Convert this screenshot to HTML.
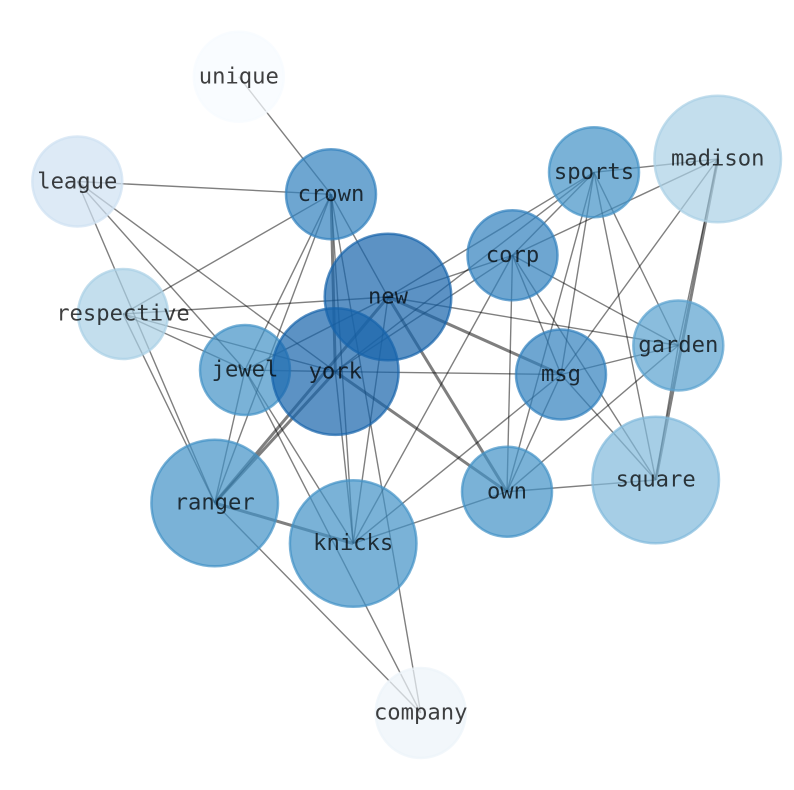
<!DOCTYPE html>
<html>
<head>
<meta charset="utf-8">
<style>
html,body{margin:0;padding:0;background:#fff}
svg{display:block}
text{font-family:"DejaVu Sans Mono","Liberation Mono",monospace;font-size:22.2px;text-anchor:middle;fill:#000;fill-opacity:.75}
circle{stroke-width:2.5}
line{stroke:#000;stroke-opacity:.5;stroke-width:1.4}
line.t{stroke-width:3}
</style>
</head>
<body>
<svg width="794" height="790" viewBox="0 0 794 790" xmlns="http://www.w3.org/2000/svg">
<rect width="794" height="790" fill="#fff"/>
<g>
<line x1="238.8" y1="76.7" x2="331" y2="194.3"/>
<line x1="77.3" y1="181.5" x2="331" y2="194.3"/>
<line x1="77.3" y1="181.5" x2="335.3" y2="371.6"/>
<line x1="77.3" y1="181.5" x2="245" y2="370"/>
<line x1="77.3" y1="181.5" x2="214.7" y2="503"/>
<line x1="123" y1="314" x2="331" y2="194.3"/>
<line x1="123" y1="314" x2="388" y2="297"/>
<line x1="123" y1="314" x2="245" y2="370"/>
<line x1="123" y1="314" x2="335.3" y2="371.6"/>
<line x1="123" y1="314" x2="214.7" y2="503"/>
<line x1="331" y1="194.3" x2="245" y2="370"/>
<line x1="331" y1="194.3" x2="214.7" y2="503"/>
<line class="t" x1="331" y1="194.3" x2="335.3" y2="371.6"/>
<line x1="331" y1="194.3" x2="353.2" y2="543.5"/>
<line x1="331" y1="194.3" x2="420.7" y2="713"/>
<line x1="331" y1="194.3" x2="388" y2="297"/>
<line x1="245" y1="370" x2="388" y2="297"/>
<line x1="245" y1="370" x2="335.3" y2="371.6"/>
<line x1="245" y1="370" x2="214.7" y2="503"/>
<line x1="245" y1="370" x2="353.2" y2="543.5"/>
<line x1="245" y1="370" x2="420.7" y2="713"/>
<line class="t" x1="214.7" y1="503" x2="388" y2="297"/>
<line class="t" x1="214.7" y1="503" x2="335.3" y2="371.6"/>
<line class="t" x1="214.7" y1="503" x2="353.2" y2="543.5"/>
<line x1="214.7" y1="503" x2="420.7" y2="713"/>
<line x1="335.3" y1="371.6" x2="353.2" y2="543.5"/>
<line x1="335.3" y1="371.6" x2="561" y2="374.5"/>
<line class="t" x1="335.3" y1="371.6" x2="507" y2="491.7"/>
<line x1="335.3" y1="371.6" x2="594" y2="172.3"/>
<line x1="335.3" y1="371.6" x2="512.5" y2="255.3"/>
<line x1="388" y1="297" x2="353.2" y2="543.5"/>
<line class="t" x1="388" y1="297" x2="561" y2="374.5"/>
<line class="t" x1="388" y1="297" x2="507" y2="491.7"/>
<line x1="388" y1="297" x2="678.3" y2="345.5"/>
<line x1="388" y1="297" x2="594" y2="172.3"/>
<line x1="388" y1="297" x2="512.5" y2="255.3"/>
<line x1="594" y1="172.3" x2="717.7" y2="159"/>
<line x1="594" y1="172.3" x2="512.5" y2="255.3"/>
<line x1="594" y1="172.3" x2="561" y2="374.5"/>
<line x1="594" y1="172.3" x2="507" y2="491.7"/>
<line x1="594" y1="172.3" x2="678.3" y2="345.5"/>
<line x1="594" y1="172.3" x2="655.7" y2="480"/>
<line x1="717.7" y1="159" x2="512.5" y2="255.3"/>
<line x1="717.7" y1="159" x2="561" y2="374.5"/>
<line x1="717.7" y1="159" x2="678.3" y2="345.5"/>
<line class="t" x1="717.7" y1="159" x2="655.7" y2="480"/>
<line x1="512.5" y1="255.3" x2="561" y2="374.5"/>
<line x1="512.5" y1="255.3" x2="507" y2="491.7"/>
<line x1="512.5" y1="255.3" x2="678.3" y2="345.5"/>
<line x1="512.5" y1="255.3" x2="655.7" y2="480"/>
<line x1="512.5" y1="255.3" x2="353.2" y2="543.5"/>
<line x1="678.3" y1="345.5" x2="561" y2="374.5"/>
<line x1="678.3" y1="345.5" x2="507" y2="491.7"/>
<line x1="678.3" y1="345.5" x2="655.7" y2="480"/>
<line x1="561" y1="374.5" x2="507" y2="491.7"/>
<line x1="561" y1="374.5" x2="655.7" y2="480"/>
<line x1="561" y1="374.5" x2="353.2" y2="543.5"/>
<line x1="507" y1="491.7" x2="655.7" y2="480"/>
<line x1="507" y1="491.7" x2="353.2" y2="543.5"/>
</g>
<g fill-opacity=".7" stroke-opacity=".7">
<circle cx="238.8" cy="76.7" r="45" fill="#f7fbff" stroke="#f7fbff"/>
<circle cx="77.3" cy="181.5" r="45" fill="#cfe1f2" stroke="#cfe1f2"/>
<circle cx="331" cy="194.3" r="45" fill="#3080bd" stroke="#3080bd"/>
<circle cx="123" cy="314" r="45" fill="#a9d0e5" stroke="#a9d0e5"/>
<circle cx="245" cy="370" r="45" fill="#4292c6" stroke="#4292c6"/>
<circle cx="388" cy="297" r="63.3" fill="#1764ab" stroke="#1764ab"/>
<circle cx="335.3" cy="371.6" r="63.3" fill="#1764ab" stroke="#1764ab"/>
<circle cx="594" cy="172.3" r="45" fill="#4292c6" stroke="#4292c6"/>
<circle cx="717.7" cy="159" r="63.3" fill="#a9d0e5" stroke="#a9d0e5"/>
<circle cx="512.5" cy="255.3" r="45" fill="#3080bd" stroke="#3080bd"/>
<circle cx="678.3" cy="345.5" r="45" fill="#58a1cf" stroke="#58a1cf"/>
<circle cx="561" cy="374.5" r="45" fill="#3080bd" stroke="#3080bd"/>
<circle cx="507" cy="491.7" r="45" fill="#4292c6" stroke="#4292c6"/>
<circle cx="655.7" cy="480" r="63.3" fill="#80b9db" stroke="#80b9db"/>
<circle cx="214.7" cy="503" r="63.3" fill="#4292c6" stroke="#4292c6"/>
<circle cx="353.2" cy="543.5" r="63.3" fill="#4292c6" stroke="#4292c6"/>
<circle cx="420.7" cy="713" r="45" fill="#edf3fa" stroke="#edf3fa"/>
</g>
<g>
<text x="238.8" y="83.7">unique</text>
<text x="77.3" y="188.4">league</text>
<text x="331" y="201.2">crown</text>
<text x="123" y="320.7">respective</text>
<text x="245" y="376.7">jewel</text>
<text x="388" y="303.7">new</text>
<text x="335.3" y="378.7">york</text>
<text x="594" y="179.2">sports</text>
<text x="717.7" y="165.7">madison</text>
<text x="512.5" y="262.2">corp</text>
<text x="678.3" y="352.2">garden</text>
<text x="561" y="381.2">msg</text>
<text x="507" y="498.7">own</text>
<text x="655.7" y="486.7">square</text>
<text x="214.7" y="509.7">ranger</text>
<text x="353.2" y="550.2">knicks</text>
<text x="420.7" y="719.7">company</text>
</g>
</svg>
</body>
</html>
